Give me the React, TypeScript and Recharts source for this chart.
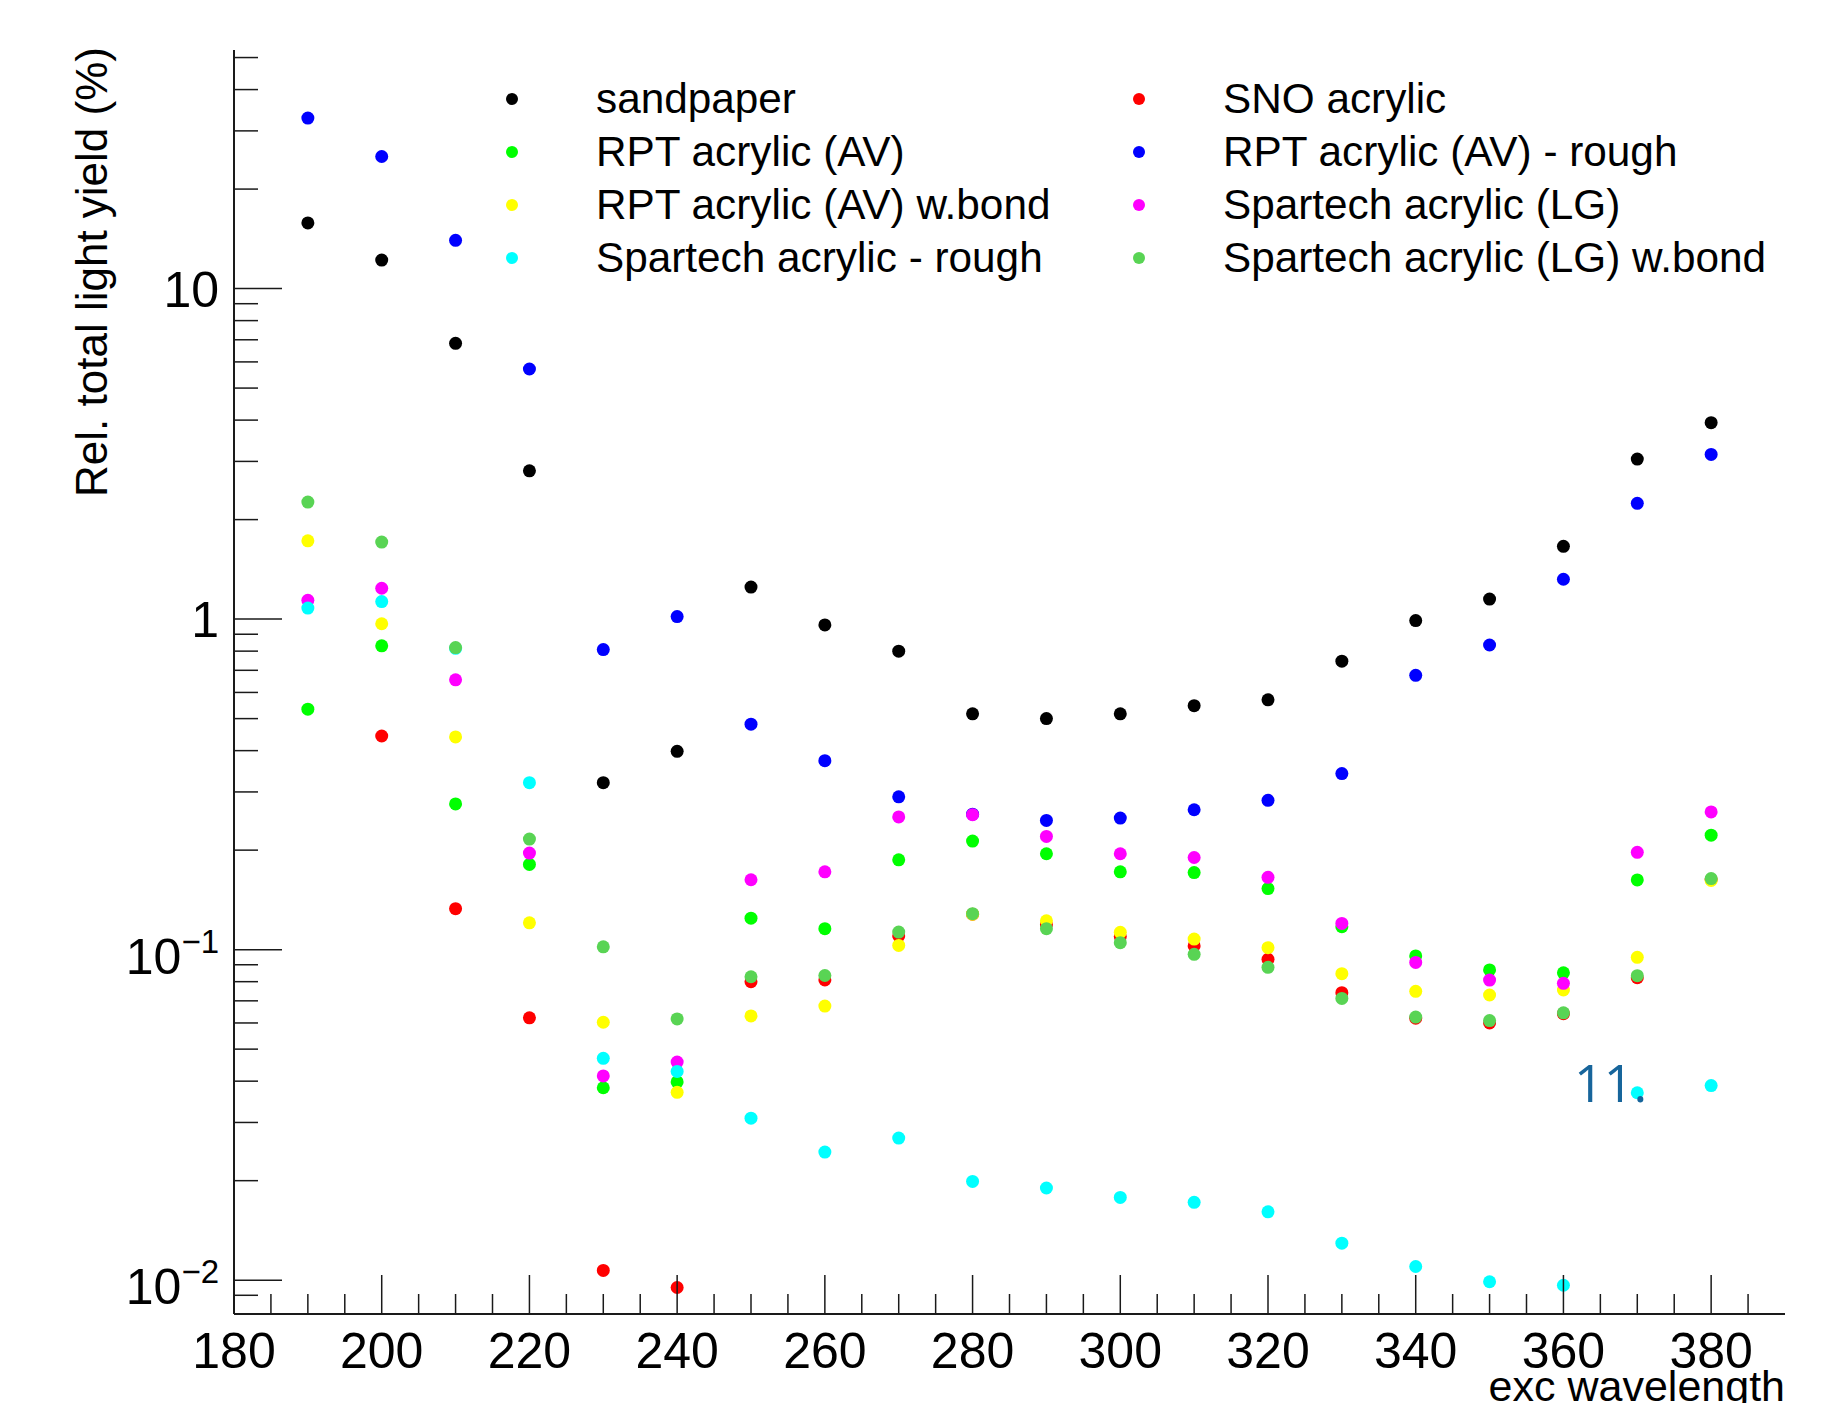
import React from "react";
import { ScatterChart, Scatter, XAxis, YAxis, Legend } from "recharts";

const FONT = "'Liberation Sans', Arial, Helvetica, sans-serif";
const AXIS = "#1a1a1a";

const wavelengths = [190, 200, 210, 220, 230, 240, 250, 260, 270, 280, 290, 300, 310, 320, 330, 340, 350, 360, 370, 380];

const sandpaper = [15.8, 12.2, 6.83, 2.81, 0.32, 0.398, 1.25, 0.96, 0.8, 0.517, 0.5, 0.517, 0.547, 0.57, 0.746, 0.99, 1.15, 1.66, 3.05, 3.93];
const snoAcrylic = [null, 0.443, 0.133, 0.0622, 0.0107, 0.0095, 0.08, 0.081, 0.11, 0.128, 0.119, 0.1095, 0.1026, 0.0935, 0.0741, 0.062, 0.06, 0.064, 0.0822, 0.163];
const rptAv = [0.534, 0.83, 0.276, 0.181, 0.0382, 0.0398, 0.1245, 0.1157, 0.187, 0.213, 0.195, 0.172, 0.171, 0.153, 0.1173, 0.0957, 0.0868, 0.0851, 0.1625, 0.222];
const rptAvRough = [32.8, 25.1, 14.0, 5.71, 0.809, 1.018, 0.481, 0.373, 0.29, 0.257, 0.246, 0.25, 0.265, 0.283, 0.341, 0.676, 0.835, 1.32, 2.24, 3.15];
const rptAvBond = [1.725, 0.968, 0.44, 0.1205, 0.0603, 0.037, 0.063, 0.0675, 0.103, 0.128, 0.1223, 0.1128, 0.1076, 0.1014, 0.0846, 0.0748, 0.0729, 0.0755, 0.0948, 0.162];
const spartechLg = [1.14, 1.24, 0.655, 0.196, 0.0415, 0.0457, 0.1627, 0.172, 0.252, 0.256, 0.22, 0.195, 0.19, 0.1655, 0.12, 0.0915, 0.0809, 0.0791, 0.197, 0.261];
const spartechRough = [1.08, 1.13, 0.816, 0.32, 0.0469, 0.0428, 0.0309, 0.0244, 0.0269, 0.0199, 0.019, 0.0178, 0.0172, 0.0161, 0.01294, 0.011, 0.00989, 0.00965, 0.0369, 0.0388];
const spartechLgBond = [2.26, 1.71, 0.82, 0.216, 0.102, 0.0617, 0.0828, 0.0835, 0.113, 0.1285, 0.1157, 0.105, 0.0968, 0.0884, 0.0712, 0.0625, 0.061, 0.0644, 0.0834, 0.164];

const seriesNames = [
  "sandpaper",
  "SNO acrylic",
  "RPT acrylic (AV)",
  "RPT acrylic (AV) - rough",
  "RPT acrylic (AV) w.bond",
  "Spartech acrylic (LG)",
  "Spartech acrylic - rough",
  "Spartech acrylic (LG) w.bond",
];
const seriesColors = ["#000000", "#ff0000", "#00ff00", "#0000ff", "#ffff00", "#ff00ff", "#00ffff", "#59d454"];
const seriesValues = [sandpaper, snoAcrylic, rptAv, rptAvRough, rptAvBond, spartechLg, spartechRough, spartechLgBond];

const xMajorTicks = [180, 200, 220, 240, 260, 280, 300, 320, 340, 360, 380];
const xTicks = [180, 185, 190, 195, 200, 205, 210, 215, 220, 225, 230, 235, 240, 245, 250, 255, 260, 265, 270, 275, 280, 285, 290, 295, 300, 305, 310, 315, 320, 325, 330, 335, 340, 345, 350, 355, 360, 365, 370, 375, 380, 385];
const yMajorTicks = [0.01, 0.1, 1, 10];
const yTicks = [0.009, 0.01, 0.02, 0.03, 0.04, 0.05, 0.06, 0.07, 0.08, 0.09, 0.1, 0.2, 0.3, 0.4, 0.5, 0.6, 0.7, 0.8, 0.9, 1, 2, 3, 4, 5, 6, 7, 8, 9, 10, 20, 30, 40, 50];
const yLabels: Record<string, [string, string]> = {
  "10": ["10", ""],
  "1": ["1", ""],
  "0.1": ["10", "\u22121"],
  "0.01": ["10", "\u22122"],
};

const toPoints = (values: (number | null)[]) =>
  wavelengths
    .map((x, i) => ({ x, y: values[i] }))
    .filter((p) => p.y !== null);

function XTick(props: any) {
  const { x, y, payload } = props;
  const major = xMajorTicks.includes(payload.value);
  return (
    <g>
      <line x1={x} x2={x} y1={y} y2={y - (major ? 39 : 20)} stroke={AXIS} strokeWidth={1.5} />
      {major && (
        <text x={x} y={y + 54} textAnchor="middle" fontSize={50} fontFamily={FONT} fill="#000">
          {payload.value}
        </text>
      )}
    </g>
  );
}

function YTick(props: any) {
  const { x, y, payload } = props;
  const major = yMajorTicks.includes(payload.value);
  const lab = yLabels[String(payload.value)];
  return (
    <g>
      <line x1={x} x2={x + (major ? 48 : 24)} y1={y} y2={y} stroke={AXIS} strokeWidth={1.5} />
      {major && lab && (
        <text x={x - 15} y={y + (lab[1] ? 24 : 18)} textAnchor="end" fontSize={50} fontFamily={FONT} fill="#000">
          {lab[0]}
          {lab[1] && (
            <tspan dy={-21} fontSize={33}>
              {lab[1]}
            </tspan>
          )}
        </text>
      )}
    </g>
  );
}

function LegendBox() {
  return (
    <svg width={1832} height={300} style={{ display: "block" }}>
      {seriesNames.map((name, i) => {
        const col = i % 2;
        const row = Math.floor(i / 2);
        const cy = 99 + row * 53;
        return (
          <g key={name}>
            <circle cx={col === 0 ? 512 : 1139} cy={cy} r={6} fill={seriesColors[i]} />
            <text x={col === 0 ? 596 : 1223} y={cy + 14} fontSize={42.3} fontFamily={FONT} fill="#000">
              {name}
            </text>
          </g>
        );
      })}
    </svg>
  );
}

export default function App() {
  return (
    <div style={{ position: "absolute", left: 0, top: 0, width: 1832, height: 1403, background: "#fff" }}>
      <ScatterChart width={1832} height={1403} margin={{ top: 50, right: 47, bottom: 0, left: 0 }}>
        <XAxis
          dataKey="x"
          type="number"
          domain={[180, 390]}
          ticks={xTicks}
          interval={0}
          allowDataOverflow
          height={89}
          tickSize={0}
          tickMargin={0}
          tickLine={false}
          tick={XTick}
          axisLine={{ stroke: AXIS, strokeWidth: 2 }}
          label={{
            content: () => (
              <text x={1785} y={1401} textAnchor="end" fontSize={43} fontFamily={FONT} fill="#000">
                exc wavelength
              </text>
            ),
          }}
        />
        <YAxis
          dataKey="y"
          type="number"
          scale="log"
          domain={[0.0079, 52.7]}
          ticks={yTicks}
          interval={0}
          allowDataOverflow
          width={234}
          tickSize={0}
          tickMargin={0}
          tickLine={false}
          tick={YTick}
          axisLine={{ stroke: AXIS, strokeWidth: 2 }}
          label={{
            content: () => (
              <text
                transform="translate(107, 47) rotate(-90)"
                textAnchor="end"
                fontSize={44}
                fontFamily={FONT}
                fill="#000"
              >
                Rel. total light yield (%)
              </text>
            ),
          }}
        />
        <XAxis
          xAxisId="top"
          orientation="top"
          type="number"
          domain={[180, 390]}
          height={0}
          tick={false}
          tickLine={false}
          axisLine={{ stroke: AXIS, strokeWidth: 2 }}
        />
        <YAxis
          yAxisId="right"
          orientation="right"
          type="number"
          domain={[0, 1]}
          width={0}
          tick={false}
          tickLine={false}
          axisLine={{ stroke: AXIS, strokeWidth: 2 }}
        />
        <Legend
          verticalAlign="middle"
          layout="horizontal"
          content={LegendBox}
          wrapperStyle={{ position: "absolute", left: 0, top: 0, width: 1832, height: 300 }}
        />
        {seriesNames.map((name, i) => (
          <Scatter
            key={name}
            name={name}
            data={toPoints(seriesValues[i])}
            fill={seriesColors[i]}
            isAnimationActive={false}
            shape={(p: any) => <circle cx={p.cx} cy={p.cy} r={6.5} fill={seriesColors[i]} />}
          />
        ))}
      </ScatterChart>
      <div
        style={{
          position: "absolute",
          left: 1574,
          top: 1052,
          fontSize: 52,
          lineHeight: "60px",
          fontFamily: "'Open Sans', sans-serif",
          color: "#17659b",
        }}
      >
        11.
      </div>
    </div>
  );
}
